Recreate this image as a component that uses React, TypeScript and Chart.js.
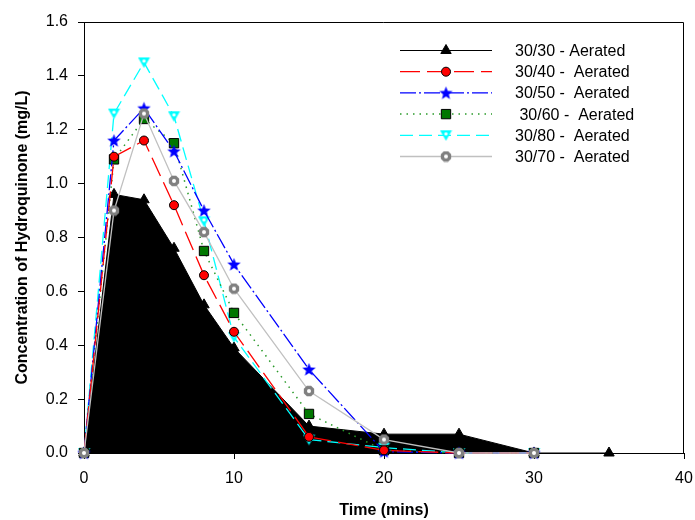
import React, { useEffect, useRef } from 'react';
import { Chart, registerables } from 'chart.js';
import { drawPoint } from 'chart.js/helpers';

Chart.register(...registerables);

const times = [0, 2, 4, 6, 8, 10, 15, 20, 25, 30, 35];
const s3030 = [0, 0.96, 0.94, 0.76, 0.55, 0.39, 0.10, 0.07, 0.07, 0, 0];
const s3040 = [0, 1.10, 1.16, 0.92, 0.66, 0.45, 0.06, 0.01, 0, 0, null];
const s3050 = [0, 1.16, 1.28, 1.12, 0.90, 0.70, 0.31, 0.005, 0, 0, null];
const s3060 = [0, 1.09, 1.24, 1.15, 0.75, 0.52, 0.145, 0.01, 0, 0, null];
const s3080 = [0, 1.26, 1.45, 1.25, 0.86, 0.43, 0.05, 0.02, 0, 0, null];
const s3070 = [0, 0.90, 1.26, 1.01, 0.82, 0.61, 0.23, 0.05, 0, 0, null];
const seriesLabels = [
  '30/30 - Aerated',
  '30/40 -  Aerated',
  '30/50 -  Aerated',
  ' 30/60 -  Aerated',
  '30/80 -  Aerated',
  '30/70 -  Aerated',
];
const xMin = 0;
const xMax = 40;
const xStep = 10;
const yMin = 0;
const yMax = 1.6;
const yStep = 0.2;
const xTitle = 'Time (mins)';
const yTitle = 'Concentration of Hydroquinone (mg/L)';

const FONT = "'Liberation Sans', Arial, sans-serif";

function toPts(vals: (number | null)[]) {
  return times.map((t, i) => ({ x: t, y: vals[i] as any }));
}

function makeStar(): HTMLCanvasElement {
  const c = document.createElement('canvas');
  c.width = 15;
  c.height = 15;
  const g = c.getContext('2d')!;
  g.fillStyle = '#0000ff';
  g.beginPath();
  for (let i = 0; i < 10; i++) {
    const r = i % 2 === 0 ? 7 : 3;
    const a = -Math.PI / 2 + (i * Math.PI) / 5;
    const x = 7.5 + r * Math.cos(a);
    const y = 8 + r * Math.sin(a);
    if (i === 0) g.moveTo(x, y);
    else g.lineTo(x, y);
  }
  g.closePath();
  g.fill();
  return c;
}

function makeDownTri(): HTMLCanvasElement {
  const c = document.createElement('canvas');
  c.width = 13;
  c.height = 12;
  const g = c.getContext('2d')!;
  g.fillStyle = '#00ffff';
  g.beginPath();
  g.moveTo(0.5, 1);
  g.lineTo(12.5, 1);
  g.lineTo(6.5, 11.5);
  g.closePath();
  g.fill();
  g.fillStyle = '#ffffff';
  g.beginPath();
  g.arc(6.5, 4.6, 1.7, 0, Math.PI * 2);
  g.fill();
  return c;
}

function makeRing(): HTMLCanvasElement {
  const c = document.createElement('canvas');
  c.width = 12;
  c.height = 12;
  const g = c.getContext('2d')!;
  g.fillStyle = '#808080';
  g.beginPath();
  for (let i = 0; i < 8; i++) {
    const a = Math.PI / 8 + (i * Math.PI) / 4;
    const x = 6 + 5.6 * Math.cos(a);
    const y = 6 + 5.6 * Math.sin(a);
    if (i === 0) g.moveTo(x, y);
    else g.lineTo(x, y);
  }
  g.closePath();
  g.fill();
  g.fillStyle = '#ffffff';
  g.beginPath();
  g.arc(6, 6, 2, 0, Math.PI * 2);
  g.fill();
  return c;
}

const framePlugin = {
  id: 'frameLegend',
  afterDatasetsDraw(chart: any) {
    const { ctx, chartArea: a } = chart;
    ctx.save();
    ctx.strokeStyle = '#000';
    ctx.lineWidth = 1;
    ctx.setLineDash([]);
    ctx.beginPath();
    const top = Math.round(a.top) + 0.5;
    const right = Math.round(a.right) - 0.5;
    ctx.moveTo(a.left, top);
    ctx.lineTo(right, top);
    ctx.lineTo(right, a.bottom);
    ctx.stroke();

    // legend
    const dss = chart.data.datasets;
    const order = [0, 1, 2, 3, 4, 5];
    order.forEach((di, i) => {
      const ds = dss[di];
      const y = 50.5 + i * 21.2;
      ctx.save();
      ctx.strokeStyle = ds.borderColor;
      ctx.lineWidth = ds.borderWidth;
      ctx.setLineDash(ds.borderDash || []);
      ctx.beginPath();
      ctx.moveTo(400, y);
      ctx.lineTo(492, y);
      ctx.stroke();
      ctx.setLineDash([]);
      ctx.fillStyle = ds.pointBackgroundColor;
      ctx.strokeStyle = ds.pointBorderColor;
      ctx.lineWidth = ds.pointBorderWidth;
      drawPoint(
        ctx,
        {
          pointStyle: ds.pointStyle,
          radius: ds.pointRadius,
          rotation: 0,
          borderWidth: ds.pointBorderWidth,
        } as any,
        446,
        y
      );
      ctx.restore();
      ctx.fillStyle = '#000';
      ctx.font = `16px ${FONT}`;
      ctx.textBaseline = 'middle';
      ctx.textAlign = 'left';
      ctx.fillText(seriesLabels[di], 515, y + 1);
    });
    ctx.restore();
  },
};

export default function App() {
  const ref = useRef<HTMLCanvasElement | null>(null);

  useEffect(() => {
    document.body.style.margin = '0';
    const canvas = ref.current!;
    const star = makeStar();
    const downTri = makeDownTri();
    const ring = makeRing();

    const chart = new Chart(canvas, {
      type: 'line',
      data: {
        datasets: [
          {
            label: seriesLabels[0],
            data: toPts(s3030),
            borderColor: '#000000',
            backgroundColor: '#000000',
            borderWidth: 1,
            fill: 'origin',
            pointStyle: 'triangle',
            pointRadius: 6,
            pointBackgroundColor: '#000000',
            pointBorderColor: '#000000',
            pointBorderWidth: 1,
            order: 10,
          } as any,
          {
            label: seriesLabels[1],
            data: toPts(s3040),
            borderColor: '#ff0000',
            borderWidth: 1.3,
            borderDash: [20, 7],
            fill: false,
            pointStyle: 'circle',
            pointRadius: 4.5,
            pointBackgroundColor: '#ff0000',
            pointBorderColor: '#000000',
            pointBorderWidth: 1,
            order: 2,
          },
          {
            label: seriesLabels[2],
            data: toPts(s3050),
            borderColor: '#0000ff',
            borderWidth: 1.3,
            borderDash: [16, 3, 2, 3],
            fill: false,
            pointStyle: star,
            pointRadius: 6,
            pointBackgroundColor: '#0000ff',
            pointBorderColor: '#0000ff',
            pointBorderWidth: 0,
            order: 3,
          },
          {
            label: seriesLabels[3],
            data: toPts(s3060),
            borderColor: '#2a9a2a',
            borderWidth: 1.5,
            borderDash: [1.5, 5],
            fill: false,
            pointStyle: 'rect',
            pointRadius: 6.6,
            pointBackgroundColor: '#007700',
            pointBorderColor: '#000000',
            pointBorderWidth: 1,
            order: 4,
          },
          {
            label: seriesLabels[4],
            data: toPts(s3080),
            borderColor: '#00ffff',
            borderWidth: 1.3,
            borderDash: [13, 6],
            fill: false,
            pointStyle: downTri,
            pointRadius: 6,
            pointBackgroundColor: '#00ffff',
            pointBorderColor: '#00ffff',
            pointBorderWidth: 0,
            order: 5,
          },
          {
            label: seriesLabels[5],
            data: toPts(s3070),
            borderColor: '#c0c0c0',
            borderWidth: 1.3,
            fill: false,
            pointStyle: ring,
            pointRadius: 6,
            pointBackgroundColor: '#808080',
            pointBorderColor: '#808080',
            pointBorderWidth: 0,
            order: 1,
          },
        ],
      },
      options: {
        animation: false,
        responsive: false,
        devicePixelRatio: 1,
        events: [],
        layout: { padding: { top: 22, right: 11, left: 0, bottom: 0 } },
        elements: {
          line: { tension: 0 },
        },
        datasets: {
          line: { clip: false as any, spanGaps: false },
        },
        plugins: {
          legend: { display: false },
          tooltip: { enabled: false },
          title: { display: false },
        },
        scales: {
          x: {
            type: 'linear',
            min: xMin,
            max: xMax,
            ticks: {
              stepSize: xStep,
              color: '#000',
              font: { family: FONT, size: 16 },
              padding: 10,
              maxRotation: 0,
            },
            grid: {
              drawOnChartArea: false,
              drawTicks: true,
              tickLength: 6,
              color: '#000',
              tickColor: '#000',
            },
            border: { color: '#000', width: 1 },
            title: {
              display: true,
              text: xTitle,
              color: '#000',
              font: { family: FONT, size: 16, weight: 'bold' },
              padding: { top: 4, bottom: 0 },
            },
            afterFit: (s: any) => {
              s.height = 67;
              s.paddingLeft = 0;
              s.paddingRight = 0;
            },
          },
          y: {
            type: 'linear',
            min: yMin,
            max: yMax,
            ticks: {
              stepSize: yStep,
              color: '#000',
              font: { family: FONT, size: 16 },
              padding: 10,
              callback: (v: any) => Number(v).toFixed(1),
            },
            grid: {
              drawOnChartArea: false,
              drawTicks: true,
              tickLength: 6,
              color: '#000',
              tickColor: '#000',
            },
            border: { color: '#000', width: 1 },
            title: {
              display: true,
              text: yTitle,
              color: '#000',
              font: { family: FONT, size: 16, weight: 'bold' },
              padding: { top: 13, bottom: 0 },
            },
            afterFit: (s: any) => {
              s.width = 84;
              s.paddingTop = 0;
              s.paddingBottom = 0;
            },
          },
        },
      },
      plugins: [framePlugin],
    });
    return () => chart.destroy();
  }, []);

  return (
    <div style={{ width: 695, height: 520 }}>
      <canvas ref={ref} width={695} height={520} style={{ display: 'block' }} />
    </div>
  );
}
